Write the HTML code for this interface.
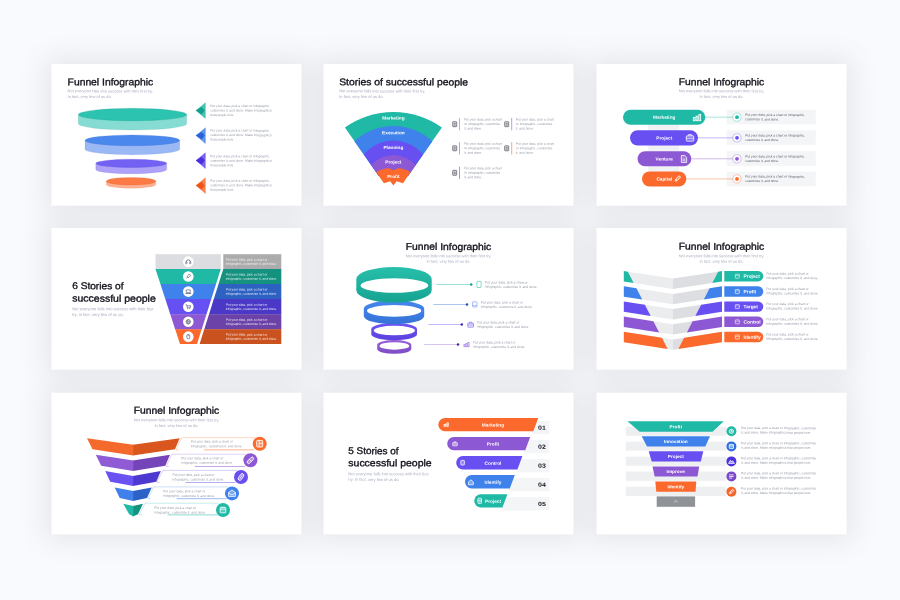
<!DOCTYPE html>
<html lang="en"><head><meta charset="utf-8"><title>Funnel Infographic</title>
<style>
html,body{margin:0;padding:0}
body{width:900px;height:600px;overflow:hidden;background:#f9fafd;position:relative;font-family:"Liberation Sans",sans-serif}
svg{position:absolute;left:0;top:0}
text{font-family:"Liberation Sans",sans-serif;text-rendering:geometricPrecision}
</style></head><body>
<svg width="900" height="600" viewBox="0 0 900 600">
<defs><filter id="sh" filterUnits="userSpaceOnUse" x="0" y="0" width="900" height="600"><feGaussianBlur stdDeviation="14"/></filter></defs>
<g filter="url(#sh)" opacity="0.112"><rect x="45.5" y="58" width="262" height="153.7" fill="#4e4f5a"/><rect x="317.5" y="58" width="262" height="153.7" fill="#4e4f5a"/><rect x="590.5" y="58" width="262" height="153.7" fill="#4e4f5a"/><rect x="45.5" y="222" width="262" height="153.7" fill="#4e4f5a"/><rect x="317.5" y="222" width="262" height="153.7" fill="#4e4f5a"/><rect x="590.5" y="222" width="262" height="153.7" fill="#4e4f5a"/><rect x="45.5" y="386.7" width="262" height="153.7" fill="#4e4f5a"/><rect x="317.5" y="386.7" width="262" height="153.7" fill="#4e4f5a"/><rect x="590.5" y="386.7" width="262" height="153.7" fill="#4e4f5a"/></g>
<rect x="51.5" y="64" width="250" height="141.7" fill="#fff"/><rect x="323.5" y="64" width="250" height="141.7" fill="#fff"/><rect x="596.5" y="64" width="250" height="141.7" fill="#fff"/><rect x="51.5" y="228" width="250" height="141.7" fill="#fff"/><rect x="323.5" y="228" width="250" height="141.7" fill="#fff"/><rect x="596.5" y="228" width="250" height="141.7" fill="#fff"/><rect x="51.5" y="392.7" width="250" height="141.7" fill="#fff"/><rect x="323.5" y="392.7" width="250" height="141.7" fill="#fff"/><rect x="596.5" y="392.7" width="250" height="141.7" fill="#fff"/>
<g id="s1">
<text x="67.6" y="85.2" transform="rotate(0.1 67.6 85.2)" font-size="9.7" fill="#15151f" textLength="85.5" lengthAdjust="spacingAndGlyphs" stroke="#15151f" stroke-width="0.36">Funnel Infographic</text>
<text x="67.6" y="92.33" transform="rotate(0.1 67.6 92.33)" font-size="3.97" fill="#a9adbf" textLength="85.5" lengthAdjust="spacingAndGlyphs">Not everyone falls into success with their first try.</text>
<text x="67.6" y="98.03" transform="rotate(0.1 67.6 98.03)" font-size="3.97" fill="#a9adbf" textLength="44.11" lengthAdjust="spacingAndGlyphs">In fact, very few of us do.</text>
<path d="M78.3 114.6 L78.3 123.7 A54.2 6.3 0 0 0 186.7 123.7 L186.7 114.6 Z" fill="#86dcd2" stroke="#12907f" stroke-width="0.35" stroke-opacity="0.35"/>
<ellipse cx="132.5" cy="114.6" rx="54.2" ry="6.3" fill="#2cc3b0" stroke="#12907f" stroke-width="0.35" stroke-opacity="0.5"/>
<path d="M85 140.4 L85 149.3 A47.35 5.4 0 0 0 179.7 149.3 L179.7 140.4 Z" fill="#9ab9f4" stroke="#2d5fc4" stroke-width="0.35" stroke-opacity="0.35"/>
<ellipse cx="132.35" cy="140.4" rx="47.35" ry="5.4" fill="#4b88ee" stroke="#2d5fc4" stroke-width="0.35" stroke-opacity="0.5"/>
<path d="M95.8 163.35 L95.8 169.55 A35.45 4.15 0 0 0 166.7 169.55 L166.7 163.35 Z" fill="#ada2f7" stroke="#4a36cc" stroke-width="0.35" stroke-opacity="0.35"/>
<ellipse cx="131.25" cy="163.35" rx="35.45" ry="4.15" fill="#7361f3" stroke="#4a36cc" stroke-width="0.35" stroke-opacity="0.5"/>
<path d="M106.3 181.25 L106.3 184.45 A24.75 3.75 0 0 0 155.8 184.45 L155.8 181.25 Z" fill="#fcb192" stroke="#d9541f" stroke-width="0.35" stroke-opacity="0.35"/>
<ellipse cx="131.05" cy="181.25" rx="24.75" ry="3.75" fill="#fb7a45" stroke="#d9541f" stroke-width="0.35" stroke-opacity="0.5"/>
<polygon points="195.8,110.6 205.4,102.5 205.4,118.7" fill="#1fb9a5" opacity="0.82"/>
<polygon points="195.8,110.6 201.7,106.7 204.7,110.6 201.7,114.5" fill="#12a08d"/>
<line x1="205.2" y1="102.8" x2="205.2" y2="118.4" stroke="#12a08d" stroke-width="0.5" opacity="0.7"/>
<polygon points="195.8,135.6 205.4,127.5 205.4,143.7" fill="#3f82ec" opacity="0.82"/>
<polygon points="195.8,135.6 201.7,131.7 204.7,135.6 201.7,139.5" fill="#2a63d8"/>
<line x1="205.2" y1="127.8" x2="205.2" y2="143.4" stroke="#2a63d8" stroke-width="0.5" opacity="0.7"/>
<polygon points="195.8,160.6 205.4,152.5 205.4,168.7" fill="#5e45ee" opacity="0.82"/>
<polygon points="195.8,160.6 201.7,156.7 204.7,160.6 201.7,164.5" fill="#4a30dc"/>
<line x1="205.2" y1="152.8" x2="205.2" y2="168.4" stroke="#4a30dc" stroke-width="0.5" opacity="0.7"/>
<polygon points="195.8,185.6 205.4,177.5 205.4,193.7" fill="#fb692c" opacity="0.82"/>
<polygon points="195.8,185.6 201.7,181.7 204.7,185.6 201.7,189.5" fill="#ee5518"/>
<line x1="205.2" y1="177.8" x2="205.2" y2="193.4" stroke="#ee5518" stroke-width="0.5" opacity="0.7"/>
<text x="210.2" y="106.95" transform="rotate(0.1 210.2 106.95)" font-size="3.29" fill="#9599a8" textLength="59.94" lengthAdjust="spacingAndGlyphs">Put your data, pick a chart or infographic,</text>
<text x="210.2" y="111.45" transform="rotate(0.1 210.2 111.45)" font-size="3.29" fill="#9599a8" textLength="61.4" lengthAdjust="spacingAndGlyphs">customize it, and done. Make infographics</text>
<text x="210.2" y="115.95" transform="rotate(0.1 210.2 115.95)" font-size="3.29" fill="#9599a8" textLength="24.13" lengthAdjust="spacingAndGlyphs">that people love.</text>
<text x="210.2" y="131.55" transform="rotate(0.1 210.2 131.55)" font-size="3.29" fill="#9599a8" textLength="59.94" lengthAdjust="spacingAndGlyphs">Put your data, pick a chart or infographic,</text>
<text x="210.2" y="136.05" transform="rotate(0.1 210.2 136.05)" font-size="3.29" fill="#9599a8" textLength="61.4" lengthAdjust="spacingAndGlyphs">customize it, and done. Make infographics</text>
<text x="210.2" y="140.55" transform="rotate(0.1 210.2 140.55)" font-size="3.29" fill="#9599a8" textLength="24.13" lengthAdjust="spacingAndGlyphs">that people love.</text>
<text x="210.2" y="157.15" transform="rotate(0.1 210.2 157.15)" font-size="3.29" fill="#9599a8" textLength="59.94" lengthAdjust="spacingAndGlyphs">Put your data, pick a chart or infographic,</text>
<text x="210.2" y="161.65" transform="rotate(0.1 210.2 161.65)" font-size="3.29" fill="#9599a8" textLength="61.4" lengthAdjust="spacingAndGlyphs">customize it, and done. Make infographics</text>
<text x="210.2" y="166.15" transform="rotate(0.1 210.2 166.15)" font-size="3.29" fill="#9599a8" textLength="24.13" lengthAdjust="spacingAndGlyphs">that people love.</text>
<text x="210.2" y="181.65" transform="rotate(0.1 210.2 181.65)" font-size="3.29" fill="#9599a8" textLength="59.94" lengthAdjust="spacingAndGlyphs">Put your data, pick a chart or infographic,</text>
<text x="210.2" y="186.15" transform="rotate(0.1 210.2 186.15)" font-size="3.29" fill="#9599a8" textLength="61.4" lengthAdjust="spacingAndGlyphs">customize it, and done. Make infographics</text>
<text x="210.2" y="190.65" transform="rotate(0.1 210.2 190.65)" font-size="3.29" fill="#9599a8" textLength="24.13" lengthAdjust="spacingAndGlyphs">that people love.</text>
</g>
<g id="s2">
<text x="339.2" y="85.2" transform="rotate(0.1 339.2 85.2)" font-size="9.7" fill="#15151f" textLength="128.8" lengthAdjust="spacingAndGlyphs" stroke="#15151f" stroke-width="0.36">Stories of successful people</text>
<text x="339.2" y="92.34" transform="rotate(0.1 339.2 92.34)" font-size="4" fill="#a9adbf" textLength="86.1" lengthAdjust="spacingAndGlyphs">Not everyone falls into success with their first try.</text>
<text x="339.2" y="98.04" transform="rotate(0.1 339.2 98.04)" font-size="4" fill="#a9adbf" textLength="44.42" lengthAdjust="spacingAndGlyphs">In fact, very few of us do.</text>
<path d="M344.9 127.6 A83.63 83.63 0 0 1 441.9 127.6 L407.95 176 L378.85 176 Z" fill="#1fb9a5"/>
<path d="M354.4 141.14 A57.79 57.79 0 0 1 432.4 141.14 L407.95 176 L378.85 176 Z" fill="#3f82ec"/>
<path d="M363.8 154.54 A38.22 38.22 0 0 1 423 154.54 L407.95 176 L378.85 176 Z" fill="#674ff2"/>
<path d="M371.2 165.09 A29.66 29.66 0 0 1 415.6 165.09 L407.95 176 L378.85 176 Z" fill="#8d58d3"/>
<path d="M376.2 172.2 Q381.5 168.6 388.8 168.3 L393.4 170.3 L398 168.3 Q405.3 168.6 410.6 172.2 L402.9 183.2 L396.6 181.2 L393.4 185.4 L390.2 181.2 L383.9 183.2 Z" fill="#fb692c"/>
<text x="393.4" y="119.6" transform="rotate(0.1 393.4 119.6)" font-size="4.5" fill="#fff" text-anchor="middle" font-weight="bold" textLength="22.32" lengthAdjust="spacingAndGlyphs">Marketing</text>
<text x="393.4" y="134.3" transform="rotate(0.1 393.4 134.3)" font-size="4.5" fill="#fff" text-anchor="middle" font-weight="bold" textLength="22.58" lengthAdjust="spacingAndGlyphs">Execution</text>
<text x="393.4" y="149" transform="rotate(0.1 393.4 149)" font-size="4.5" fill="#fff" text-anchor="middle" font-weight="bold" textLength="19.95" lengthAdjust="spacingAndGlyphs">Planning</text>
<text x="393.4" y="163.6" transform="rotate(0.1 393.4 163.6)" font-size="4.5" fill="#fff" text-anchor="middle" font-weight="bold" textLength="16.02" lengthAdjust="spacingAndGlyphs">Project</text>
<text x="393.4" y="178" transform="rotate(0.1 393.4 178)" font-size="4.5" fill="#fff" text-anchor="middle" font-weight="bold" textLength="12.34" lengthAdjust="spacingAndGlyphs">Profit</text>
<rect x="452.7" y="121.7" width="4" height="5" fill="#4a4a5a" rx="0.5" fill-opacity="0.2" stroke="#4a4a5a" stroke-width="0.65"/>
<line x1="453.7" y1="123.6" x2="455.7" y2="123.6" stroke="#4a4a5a" stroke-width="0.6"/>
<line x1="453.7" y1="125.1" x2="455.7" y2="125.1" stroke="#4a4a5a" stroke-width="0.6"/>
<line x1="459.5" y1="118" x2="459.5" y2="130.4" stroke="#1fb9a5" stroke-width="0.6"/>
<text x="464.2" y="120.54" transform="rotate(0.1 464.2 120.54)" font-size="3.24" fill="#9599a8" textLength="37.6" lengthAdjust="spacingAndGlyphs">Put your data, pick a chart</text>
<text x="464.2" y="125.04" transform="rotate(0.1 464.2 125.04)" font-size="3.24" fill="#9599a8" textLength="35.98" lengthAdjust="spacingAndGlyphs">or infographic, customize</text>
<text x="464.2" y="129.54" transform="rotate(0.1 464.2 129.54)" font-size="3.24" fill="#9599a8" textLength="17.82" lengthAdjust="spacingAndGlyphs">it, and done.</text>
<rect x="452.7" y="145.8" width="4" height="5" fill="#4a4a5a" rx="0.5" fill-opacity="0.2" stroke="#4a4a5a" stroke-width="0.65"/>
<line x1="453.7" y1="147.7" x2="455.7" y2="147.7" stroke="#4a4a5a" stroke-width="0.6"/>
<line x1="453.7" y1="149.2" x2="455.7" y2="149.2" stroke="#4a4a5a" stroke-width="0.6"/>
<line x1="459.5" y1="142.1" x2="459.5" y2="154.5" stroke="#3f82ec" stroke-width="0.6"/>
<text x="464.2" y="144.64" transform="rotate(0.1 464.2 144.64)" font-size="3.24" fill="#9599a8" textLength="37.6" lengthAdjust="spacingAndGlyphs">Put your data, pick a chart</text>
<text x="464.2" y="149.14" transform="rotate(0.1 464.2 149.14)" font-size="3.24" fill="#9599a8" textLength="35.98" lengthAdjust="spacingAndGlyphs">or infographic, customize</text>
<text x="464.2" y="153.64" transform="rotate(0.1 464.2 153.64)" font-size="3.24" fill="#9599a8" textLength="17.82" lengthAdjust="spacingAndGlyphs">it, and done.</text>
<rect x="452.7" y="170.3" width="4" height="5" fill="#4a4a5a" rx="0.5" fill-opacity="0.2" stroke="#4a4a5a" stroke-width="0.65"/>
<line x1="453.7" y1="172.2" x2="455.7" y2="172.2" stroke="#4a4a5a" stroke-width="0.6"/>
<line x1="453.7" y1="173.7" x2="455.7" y2="173.7" stroke="#4a4a5a" stroke-width="0.6"/>
<line x1="459.5" y1="166.6" x2="459.5" y2="179" stroke="#674ff2" stroke-width="0.6"/>
<text x="464.2" y="169.14" transform="rotate(0.1 464.2 169.14)" font-size="3.24" fill="#9599a8" textLength="37.6" lengthAdjust="spacingAndGlyphs">Put your data, pick a chart</text>
<text x="464.2" y="173.64" transform="rotate(0.1 464.2 173.64)" font-size="3.24" fill="#9599a8" textLength="35.98" lengthAdjust="spacingAndGlyphs">or infographic, customize</text>
<text x="464.2" y="178.14" transform="rotate(0.1 464.2 178.14)" font-size="3.24" fill="#9599a8" textLength="17.82" lengthAdjust="spacingAndGlyphs">it, and done.</text>
<rect x="504.7" y="121.7" width="4" height="5" fill="#4a4a5a" rx="0.5" fill-opacity="0.2" stroke="#4a4a5a" stroke-width="0.65"/>
<line x1="505.7" y1="123.6" x2="507.7" y2="123.6" stroke="#4a4a5a" stroke-width="0.6"/>
<line x1="505.7" y1="125.1" x2="507.7" y2="125.1" stroke="#4a4a5a" stroke-width="0.6"/>
<line x1="511.7" y1="118" x2="511.7" y2="130.4" stroke="#8d58d3" stroke-width="0.6"/>
<text x="515.8" y="120.55" transform="rotate(0.1 515.8 120.55)" font-size="3.29" fill="#9599a8" textLength="38.2" lengthAdjust="spacingAndGlyphs">Put your data, pick a chart</text>
<text x="515.8" y="125.05" transform="rotate(0.1 515.8 125.05)" font-size="3.29" fill="#9599a8" textLength="36.55" lengthAdjust="spacingAndGlyphs">or infographic, customize</text>
<text x="515.8" y="129.55" transform="rotate(0.1 515.8 129.55)" font-size="3.29" fill="#9599a8" textLength="18.1" lengthAdjust="spacingAndGlyphs">it, and done.</text>
<rect x="504.7" y="145.8" width="4" height="5" fill="#4a4a5a" rx="0.5" fill-opacity="0.2" stroke="#4a4a5a" stroke-width="0.65"/>
<line x1="505.7" y1="147.7" x2="507.7" y2="147.7" stroke="#4a4a5a" stroke-width="0.6"/>
<line x1="505.7" y1="149.2" x2="507.7" y2="149.2" stroke="#4a4a5a" stroke-width="0.6"/>
<line x1="511.7" y1="142.1" x2="511.7" y2="154.5" stroke="#fb692c" stroke-width="0.6"/>
<text x="515.8" y="144.65" transform="rotate(0.1 515.8 144.65)" font-size="3.29" fill="#9599a8" textLength="38.2" lengthAdjust="spacingAndGlyphs">Put your data, pick a chart</text>
<text x="515.8" y="149.15" transform="rotate(0.1 515.8 149.15)" font-size="3.29" fill="#9599a8" textLength="36.55" lengthAdjust="spacingAndGlyphs">or infographic, customize</text>
<text x="515.8" y="153.65" transform="rotate(0.1 515.8 153.65)" font-size="3.29" fill="#9599a8" textLength="18.1" lengthAdjust="spacingAndGlyphs">it, and done.</text>
</g>
<g id="s3">
<text x="721.5" y="85.2" transform="rotate(0.1 721.5 85.2)" font-size="9.7" fill="#15151f" text-anchor="middle" textLength="85.5" lengthAdjust="spacingAndGlyphs" stroke="#15151f" stroke-width="0.36">Funnel Infographic</text>
<text x="721.5" y="92.33" transform="rotate(0.1 721.5 92.33)" font-size="3.97" fill="#a9adbf" text-anchor="middle" textLength="85.5" lengthAdjust="spacingAndGlyphs">Not everyone falls into success with their first try.</text>
<text x="721.5" y="98.03" transform="rotate(0.1 721.5 98.03)" font-size="3.97" fill="#a9adbf" text-anchor="middle" textLength="44.11" lengthAdjust="spacingAndGlyphs">In fact, very few of us do.</text>
<rect x="726.7" y="109.7" width="89.1" height="14.6" fill="#f4f5f7"/>
<rect x="726.7" y="130.3" width="89.1" height="14.7" fill="#f4f5f7"/>
<rect x="726.7" y="151.2" width="89.1" height="14.7" fill="#f4f5f7"/>
<rect x="726.7" y="171.7" width="89.1" height="14.7" fill="#f4f5f7"/>
<rect x="648.3" y="124.2" width="31" height="6.6" fill="#f0f1f4"/>
<rect x="648.3" y="145" width="31" height="6.8" fill="#f0f1f4"/>
<rect x="648.3" y="165.8" width="31" height="6" fill="#f0f1f4"/>
<line x1="703.3" y1="117.2" x2="737" y2="117.2" stroke="#1fb9a5" stroke-width="0.5" opacity="0.8"/>
<rect x="623" y="109.7" width="82.3" height="15" fill="#1fb9a5" rx="7.5"/>
<text x="664.3" y="118.8" transform="rotate(0.1 664.3 118.8)" font-size="4.5" fill="#fff" text-anchor="middle" font-weight="bold" textLength="22.32" lengthAdjust="spacingAndGlyphs">Marketing</text>
<circle cx="737" cy="117.2" r="4.1" fill="#fff" stroke="#1fb9a5" stroke-width="0.6" stroke-opacity="0.6"/>
<circle cx="737" cy="117.2" r="1.9" fill="#1fb9a5"/>
<text x="745.3" y="115.85" transform="rotate(0.1 745.3 115.85)" font-size="3.27" fill="#5b5e6b" textLength="59.7" lengthAdjust="spacingAndGlyphs">Put your data, pick a chart or infographic,</text>
<text x="745.3" y="120.35" transform="rotate(0.1 745.3 120.35)" font-size="3.27" fill="#5b5e6b" textLength="33.67" lengthAdjust="spacingAndGlyphs">customize it, and done.</text>
<line x1="696" y1="137.85" x2="737" y2="137.85" stroke="#674ff2" stroke-width="0.5" opacity="0.8"/>
<rect x="630" y="130.3" width="68" height="15.1" fill="#674ff2" rx="7.55"/>
<text x="664.3" y="139.45" transform="rotate(0.1 664.3 139.45)" font-size="4.5" fill="#fff" text-anchor="middle" font-weight="bold" textLength="16.02" lengthAdjust="spacingAndGlyphs">Project</text>
<circle cx="737" cy="137.85" r="4.1" fill="#fff" stroke="#674ff2" stroke-width="0.6" stroke-opacity="0.6"/>
<circle cx="737" cy="137.85" r="1.9" fill="#674ff2"/>
<text x="745.3" y="136.5" transform="rotate(0.1 745.3 136.5)" font-size="3.27" fill="#5b5e6b" textLength="59.7" lengthAdjust="spacingAndGlyphs">Put your data, pick a chart or infographic,</text>
<text x="745.3" y="141" transform="rotate(0.1 745.3 141)" font-size="3.27" fill="#5b5e6b" textLength="33.67" lengthAdjust="spacingAndGlyphs">customize it, and done.</text>
<line x1="689.3" y1="158.8" x2="737" y2="158.8" stroke="#8d58d3" stroke-width="0.5" opacity="0.8"/>
<rect x="637.5" y="151.3" width="53.8" height="15" fill="#8d58d3" rx="7.5"/>
<text x="664.3" y="160.4" transform="rotate(0.1 664.3 160.4)" font-size="4.5" fill="#fff" text-anchor="middle" font-weight="bold" textLength="17.33" lengthAdjust="spacingAndGlyphs">Venture</text>
<circle cx="737" cy="158.8" r="4.1" fill="#fff" stroke="#8d58d3" stroke-width="0.6" stroke-opacity="0.6"/>
<circle cx="737" cy="158.8" r="1.9" fill="#8d58d3"/>
<text x="745.3" y="157.45" transform="rotate(0.1 745.3 157.45)" font-size="3.27" fill="#5b5e6b" textLength="59.7" lengthAdjust="spacingAndGlyphs">Put your data, pick a chart or infographic,</text>
<text x="745.3" y="161.95" transform="rotate(0.1 745.3 161.95)" font-size="3.27" fill="#5b5e6b" textLength="33.67" lengthAdjust="spacingAndGlyphs">customize it, and done.</text>
<line x1="684.3" y1="178.9" x2="737" y2="178.9" stroke="#fb692c" stroke-width="0.5" opacity="0.8"/>
<rect x="642" y="171.4" width="44.3" height="15" fill="#fb692c" rx="7.5"/>
<text x="664.3" y="180.5" transform="rotate(0.1 664.3 180.5)" font-size="4.5" fill="#fff" text-anchor="middle" font-weight="bold" textLength="15.75" lengthAdjust="spacingAndGlyphs">Capital</text>
<circle cx="737" cy="178.9" r="4.1" fill="#fff" stroke="#fb692c" stroke-width="0.6" stroke-opacity="0.6"/>
<circle cx="737" cy="178.9" r="1.9" fill="#fb692c"/>
<text x="745.3" y="177.55" transform="rotate(0.1 745.3 177.55)" font-size="3.27" fill="#5b5e6b" textLength="59.7" lengthAdjust="spacingAndGlyphs">Put your data, pick a chart or infographic,</text>
<text x="745.3" y="182.05" transform="rotate(0.1 745.3 182.05)" font-size="3.27" fill="#5b5e6b" textLength="33.67" lengthAdjust="spacingAndGlyphs">customize it, and done.</text>
<rect x="693.34" y="117.38" width="1.8" height="3.36" fill="#fff" fill-opacity="0.25" stroke="#fff" stroke-width="0.84"/>
<rect x="696.1" y="116.18" width="1.8" height="4.56" fill="#fff" fill-opacity="0.25" stroke="#fff" stroke-width="0.84"/>
<rect x="698.86" y="114.5" width="1.8" height="6.24" fill="#fff" fill-opacity="0.25" stroke="#fff" stroke-width="0.84"/>
<rect x="686.32" y="135.83" width="7.36" height="5.29" fill="#fff" rx="0.57" fill-opacity="0.2" stroke="#fff" stroke-width="0.8"/>
<path d="M688.62 135.83 v-1.26 h2.76 v1.26" fill="none" stroke="#fff" stroke-width="0.8"/>
<line x1="686.32" y1="138.25" x2="693.68" y2="138.25" stroke="#fff" stroke-width="0.64"/>
<path d="M681.36 155.55 h3.45 l1.84 1.84 v5.06 h-5.29 Z" fill="#fff" stroke="#fff" stroke-width="0.8" fill-opacity="0.2"/>
<line x1="682.74" y1="159.23" x2="685.26" y2="159.23" stroke="#fff" stroke-width="0.64"/>
<line x1="682.74" y1="160.72" x2="685.26" y2="160.72" stroke="#fff" stroke-width="0.64"/>
<g transform="translate(677.6 178.7) rotate(45) scale(0.95)">
<rect x="-1.1" y="-3.4" width="2.2" height="5.2" fill="#fff" rx="0.4" fill-opacity="0.3" stroke="#fff" stroke-width="0.8"/>
<path d="M-1.1 1.8 L0 3.6 L1.1 1.8" fill="none" stroke="#fff" stroke-width="0.8"/>
</g>
</g>
<g id="s4">
<text x="72.2" y="289.1" transform="rotate(0.1 72.2 289.1)" font-size="9.7" fill="#15151f" textLength="51.3" lengthAdjust="spacingAndGlyphs" stroke="#15151f" stroke-width="0.36">6 Stories of</text>
<text x="72.2" y="301.6" transform="rotate(0.1 72.2 301.6)" font-size="9.7" fill="#15151f" textLength="83.6" lengthAdjust="spacingAndGlyphs" stroke="#15151f" stroke-width="0.36">successful people</text>
<text x="72.2" y="310.26" transform="rotate(0.1 72.2 310.26)" font-size="4.06" fill="#a9adbf" textLength="81.1" lengthAdjust="spacingAndGlyphs">Not everyone falls into success with their first</text>
<text x="72.2" y="316.06" transform="rotate(0.1 72.2 316.06)" font-size="4.06" fill="#a9adbf" textLength="51.66" lengthAdjust="spacingAndGlyphs">try. In fact, very few of us do.</text>
<rect x="155.5" y="254.2" width="65.3" height="14.9" fill="#dcdde0"/>
<rect x="223.3" y="254.2" width="58" height="14.9" fill="#acacac"/>
<circle cx="188.3" cy="261.65" r="5.3" fill="#fff"/>
<text x="225.8" y="260.6" transform="rotate(0.1 225.8 260.6)" font-size="3.25" fill="rgba(255,255,255,0.86)" textLength="41.61" lengthAdjust="spacingAndGlyphs">Put your data, pick a chart or</text>
<text x="225.8" y="264.8" transform="rotate(0.1 225.8 264.8)" font-size="3.25" fill="rgba(255,255,255,0.86)" textLength="51.2" lengthAdjust="spacingAndGlyphs">infographic, customize it, and done.</text>
<path d="M186.2 261.95 a2.1 2.1 0 0 1 4.2 0" fill="none" stroke="#2f3450" stroke-width="0.6"/>
<rect x="185.8" y="261.85" width="1.1" height="2" fill="none" rx="0.3" stroke="#2f3450" stroke-width="0.5"/>
<rect x="189.7" y="261.85" width="1.1" height="2" fill="none" rx="0.3" stroke="#2f3450" stroke-width="0.5"/>
<polygon points="155.5,268.9 220.8,268.9 216.04,284.1 160.4,284.1" fill="#1fb9a5"/>
<polygon points="223.3,268.9 281.3,268.9 281.3,284.1 218.56,284.1" fill="#14917f"/>
<circle cx="188.3" cy="276.5" r="5.3" fill="#fff"/>
<text x="225.8" y="275.45" transform="rotate(0.1 225.8 275.45)" font-size="3.25" fill="rgba(255,255,255,0.86)" textLength="41.61" lengthAdjust="spacingAndGlyphs">Put your data, pick a chart or</text>
<text x="225.8" y="279.65" transform="rotate(0.1 225.8 279.65)" font-size="3.25" fill="rgba(255,255,255,0.86)" textLength="51.2" lengthAdjust="spacingAndGlyphs">infographic, customize it, and done.</text>
<g transform="rotate(45 188.3 276.5)">
<rect x="187.3" y="273.9" width="2" height="3.4" fill="none" rx="0.8" stroke="#2f3450" stroke-width="0.55"/>
<line x1="188.3" y1="277.3" x2="188.3" y2="279.3" stroke="#2f3450" stroke-width="0.55"/>
</g>
<polygon points="160.4,283.9 216.04,283.9 211.22,299.3 165.37,299.3" fill="#3f82ec"/>
<polygon points="218.56,283.9 281.3,283.9 281.3,299.3 213.76,299.3" fill="#2d62c2"/>
<circle cx="188.3" cy="291.6" r="5.3" fill="#fff"/>
<text x="225.8" y="290.55" transform="rotate(0.1 225.8 290.55)" font-size="3.25" fill="rgba(255,255,255,0.86)" textLength="41.61" lengthAdjust="spacingAndGlyphs">Put your data, pick a chart or</text>
<text x="225.8" y="294.75" transform="rotate(0.1 225.8 294.75)" font-size="3.25" fill="rgba(255,255,255,0.86)" textLength="51.2" lengthAdjust="spacingAndGlyphs">infographic, customize it, and done.</text>
<rect x="186.3" y="289.9" width="4" height="2.8" fill="none" rx="0.3" stroke="#2f3450" stroke-width="0.55"/>
<line x1="185.5" y1="293.5" x2="191.1" y2="293.5" stroke="#2f3450" stroke-width="0.6"/>
<polygon points="165.37,299.1 211.22,299.1 206.42,314.4 170.3,314.4" fill="#6650f2"/>
<polygon points="213.76,299.1 281.3,299.1 281.3,314.4 208.99,314.4" fill="#4b38c6"/>
<circle cx="188.3" cy="306.75" r="5.3" fill="#fff"/>
<text x="225.8" y="305.7" transform="rotate(0.1 225.8 305.7)" font-size="3.25" fill="rgba(255,255,255,0.86)" textLength="41.61" lengthAdjust="spacingAndGlyphs">Put your data, pick a chart or</text>
<text x="225.8" y="309.9" transform="rotate(0.1 225.8 309.9)" font-size="3.25" fill="rgba(255,255,255,0.86)" textLength="51.2" lengthAdjust="spacingAndGlyphs">infographic, customize it, and done.</text>
<path d="M185.7 304.75 h1 l0.7 3 h2.8 l0.5 -2 h-3.6" fill="none" stroke="#2f3450" stroke-width="0.55"/>
<circle cx="187.7" cy="308.75" r="0.4" fill="#2f3450"/>
<circle cx="189.8" cy="308.75" r="0.4" fill="#2f3450"/>
<polygon points="170.3,314.2 206.42,314.2 201.66,329.4 175.2,329.4" fill="#8d58d3"/>
<polygon points="208.99,314.2 281.3,314.2 281.3,329.4 204.25,329.4" fill="#6c42a9"/>
<circle cx="188.3" cy="321.8" r="5.3" fill="#fff"/>
<text x="225.8" y="320.75" transform="rotate(0.1 225.8 320.75)" font-size="3.25" fill="rgba(255,255,255,0.86)" textLength="41.61" lengthAdjust="spacingAndGlyphs">Put your data, pick a chart or</text>
<text x="225.8" y="324.95" transform="rotate(0.1 225.8 324.95)" font-size="3.25" fill="rgba(255,255,255,0.86)" textLength="51.2" lengthAdjust="spacingAndGlyphs">infographic, customize it, and done.</text>
<circle cx="188.3" cy="321.8" r="2.2" fill="none" stroke="#2f3450" stroke-width="0.55"/>
<line x1="186.1" y1="321.8" x2="190.5" y2="321.8" stroke="#2f3450" stroke-width="0.45"/>
<ellipse cx="188.3" cy="321.8" rx="0.9" ry="2.2" fill="none" stroke="#2f3450" stroke-width="0.45"/>
<polygon points="175.2,329.2 201.66,329.2 197,344.1 180,344.1" fill="#fb692c"/>
<polygon points="204.25,329.2 281.3,329.2 281.3,344.1 199.6,344.1" fill="#c9521f"/>
<circle cx="188.3" cy="336.65" r="5.3" fill="#fff"/>
<text x="225.8" y="335.6" transform="rotate(0.1 225.8 335.6)" font-size="3.25" fill="rgba(255,255,255,0.86)" textLength="41.61" lengthAdjust="spacingAndGlyphs">Put your data, pick a chart or</text>
<text x="225.8" y="339.8" transform="rotate(0.1 225.8 339.8)" font-size="3.25" fill="rgba(255,255,255,0.86)" textLength="51.2" lengthAdjust="spacingAndGlyphs">infographic, customize it, and done.</text>
<rect x="186.8" y="334.45" width="3" height="4.4" fill="none" rx="1.5" stroke="#2f3450" stroke-width="0.55"/>
<line x1="188.3" y1="334.45" x2="188.3" y2="336.25" stroke="#2f3450" stroke-width="0.45"/>
</g>
<g id="s5">
<text x="448.5" y="249.9" transform="rotate(0.1 448.5 249.9)" font-size="9.7" fill="#15151f" text-anchor="middle" textLength="85.5" lengthAdjust="spacingAndGlyphs" stroke="#15151f" stroke-width="0.36">Funnel Infographic</text>
<text x="448.5" y="257.23" transform="rotate(0.1 448.5 257.23)" font-size="3.97" fill="#a9adbf" text-anchor="middle" textLength="85.5" lengthAdjust="spacingAndGlyphs">Not everyone falls into success with their first try.</text>
<text x="448.5" y="262.83" transform="rotate(0.1 448.5 262.83)" font-size="3.97" fill="#a9adbf" text-anchor="middle" textLength="44.11" lengthAdjust="spacingAndGlyphs">In fact, very few of us do.</text>
<linearGradient id="rg4" x1="0" y1="0" x2="0" y2="1"><stop offset="0" stop-color="#9560d8"/><stop offset="1" stop-color="#7f4cc4"/></linearGradient>
<path d="M377.2 344.76 A17.05 4.76 0 0 1 411.3 344.76 L411.3 349.04 A17.05 4.76 0 0 1 377.2 349.04 Z M379.5 345.95 A14.85 3.75 0 1 0 409.2 345.95 A14.85 3.75 0 1 0 379.5 345.95 Z" fill="url(#rg4)" fill-rule="evenodd"/>
<linearGradient id="rg3" x1="0" y1="0" x2="0" y2="1"><stop offset="0" stop-color="#6e55f5"/><stop offset="1" stop-color="#5b42dd"/></linearGradient>
<path d="M371.3 328.93 A22.85 5.93 0 0 1 417 328.93 L417 334.27 A22.85 5.93 0 0 1 371.3 334.27 Z M373.7 330.55 A20.65 4.75 0 1 0 415 330.55 A20.65 4.75 0 1 0 373.7 330.55 Z" fill="url(#rg3)" fill-rule="evenodd"/>
<linearGradient id="rg2" x1="0" y1="0" x2="0" y2="1"><stop offset="0" stop-color="#4688f0"/><stop offset="1" stop-color="#3672d6"/></linearGradient>
<path d="M363.8 308.68 A30.2 8.18 0 0 1 424.2 308.68 L424.2 316.02 A30.2 8.18 0 0 1 363.8 316.02 Z M367 310.85 A27.15 5.85 0 1 0 421.3 310.85 A27.15 5.85 0 1 0 367 310.85 Z" fill="url(#rg2)" fill-rule="evenodd"/>
<linearGradient id="rg1" x1="0" y1="0" x2="0" y2="1"><stop offset="0" stop-color="#27bfab"/><stop offset="1" stop-color="#17a391"/></linearGradient>
<path d="M356.3 279.28 A37.7 12.28 0 0 1 431.7 279.28 L431.7 290.32 A37.7 12.28 0 0 1 356.3 290.32 Z M360.5 285.5 A33.9 7.2 0 1 0 428.3 285.5 A33.9 7.2 0 1 0 360.5 285.5 Z" fill="url(#rg1)" fill-rule="evenodd"/>
<line x1="436.7" y1="284.5" x2="471.2" y2="284.5" stroke="#1fb9a5" stroke-width="0.45"/>
<circle cx="471.2" cy="284.5" r="1.25" fill="#14a08d"/>
<text x="485" y="283.57" transform="rotate(0.1 485 283.57)" font-size="3.34" fill="#9599a8" textLength="42.66" lengthAdjust="spacingAndGlyphs">Put your data, pick a chart or</text>
<text x="485" y="287.87" transform="rotate(0.1 485 287.87)" font-size="3.34" fill="#9599a8" textLength="52.5" lengthAdjust="spacingAndGlyphs">infographic, customize it, and done.</text>
<line x1="433.3" y1="304.5" x2="467" y2="304.5" stroke="#4a7de0" stroke-width="0.45"/>
<circle cx="467" cy="304.5" r="1.25" fill="#2a4fb0"/>
<text x="480.8" y="303.55" transform="rotate(0.1 480.8 303.55)" font-size="3.29" fill="#9599a8" textLength="42.01" lengthAdjust="spacingAndGlyphs">Put your data, pick a chart or</text>
<text x="480.8" y="307.85" transform="rotate(0.1 480.8 307.85)" font-size="3.29" fill="#9599a8" textLength="51.7" lengthAdjust="spacingAndGlyphs">infographic, customize it, and done.</text>
<line x1="428.3" y1="324.5" x2="461.8" y2="324.5" stroke="#7a63f0" stroke-width="0.45"/>
<circle cx="461.8" cy="324.5" r="1.25" fill="#3a2ab8"/>
<text x="477" y="323.56" transform="rotate(0.1 477 323.56)" font-size="3.32" fill="#9599a8" textLength="42.42" lengthAdjust="spacingAndGlyphs">Put your data, pick a chart or</text>
<text x="477" y="327.86" transform="rotate(0.1 477 327.86)" font-size="3.32" fill="#9599a8" textLength="52.2" lengthAdjust="spacingAndGlyphs">infographic, customize it, and done.</text>
<line x1="424.2" y1="344.5" x2="458" y2="344.5" stroke="#a07be0" stroke-width="0.45"/>
<circle cx="458" cy="344.5" r="1.25" fill="#4b2a9a"/>
<text x="473" y="343.56" transform="rotate(0.1 473 343.56)" font-size="3.32" fill="#9599a8" textLength="42.5" lengthAdjust="spacingAndGlyphs">Put your data, pick a chart or</text>
<text x="473" y="347.86" transform="rotate(0.1 473 347.86)" font-size="3.32" fill="#9599a8" textLength="52.3" lengthAdjust="spacingAndGlyphs">infographic, customize it, and done.</text>
<rect x="476.9" y="281.4" width="4.2" height="6.1" fill="none" rx="0.6" stroke="#25b8a4" stroke-width="0.55"/>
<rect x="472.6" y="301.8" width="4.4" height="5.2" fill="none" rx="0.5" stroke="#5b86e6" stroke-width="0.55"/>
<line x1="472.6" y1="305.6" x2="477" y2="305.6" stroke="#5b86e6" stroke-width="0.5"/>
<rect x="467.72" y="323.08" width="5.76" height="4.14" fill="#8a74f0" rx="0.45" fill-opacity="0.2" stroke="#8a74f0" stroke-width="0.68"/>
<path d="M469.52 323.08 v-0.99 h2.16 v0.99" fill="none" stroke="#8a74f0" stroke-width="0.68"/>
<line x1="467.72" y1="324.97" x2="473.48" y2="324.97" stroke="#8a74f0" stroke-width="0.54"/>
<rect x="463.91" y="344.42" width="1.27" height="2.38" fill="#a586e6" fill-opacity="0.25" stroke="#a586e6" stroke-width="0.64"/>
<rect x="465.86" y="343.56" width="1.27" height="3.23" fill="#a586e6" fill-opacity="0.25" stroke="#a586e6" stroke-width="0.64"/>
<rect x="467.82" y="342.38" width="1.27" height="4.42" fill="#a586e6" fill-opacity="0.25" stroke="#a586e6" stroke-width="0.64"/>
</g>
<g id="s6">
<text x="721.5" y="249.7" transform="rotate(0.1 721.5 249.7)" font-size="9.7" fill="#15151f" text-anchor="middle" textLength="85.5" lengthAdjust="spacingAndGlyphs" stroke="#15151f" stroke-width="0.36">Funnel Infographic</text>
<text x="721.5" y="257.23" transform="rotate(0.1 721.5 257.23)" font-size="3.97" fill="#a9adbf" text-anchor="middle" textLength="85.5" lengthAdjust="spacingAndGlyphs">Not everyone falls into success with their first try.</text>
<text x="721.5" y="262.83" transform="rotate(0.1 721.5 262.83)" font-size="3.97" fill="#a9adbf" text-anchor="middle" textLength="44.11" lengthAdjust="spacingAndGlyphs">In fact, very few of us do.</text>
<polygon points="627.87,271.63 673,278.6 673,289 633.69,282.93" fill="#ebecee"/>
<polygon points="718.13,271.63 673,278.6 673,289 712.31,282.93" fill="#dcdee1"/>
<polygon points="623.8,271 627.87,271.63 633.69,282.93 623.8,281.4" fill="#1fb9a5"/>
<polygon points="722,271 718.13,271.63 712.31,282.93 722,281.4" fill="#1fb9a5"/>
<path d="M724.3 271 H758.1 A5.2 5.2 0 0 1 758.1 281.4 H724.3 Z" fill="#1fb9a5"/>
<text x="743.6" y="277.85" transform="rotate(0.1 743.6 277.85)" font-size="4.6" fill="#fff" font-weight="bold" textLength="16.22" lengthAdjust="spacingAndGlyphs">Project</text>
<rect x="735.3" y="274.2" width="4" height="4" fill="none" rx="0.5" stroke="#fff" stroke-width="0.6"/>
<line x1="735.3" y1="275.6" x2="739.3" y2="275.6" stroke="#fff" stroke-width="0.5"/>
<text x="766.3" y="274.66" transform="rotate(0.1 766.3 274.66)" font-size="3.32" fill="#9599a8" textLength="42.42" lengthAdjust="spacingAndGlyphs">Put your data, pick a chart or</text>
<text x="766.3" y="279.06" transform="rotate(0.1 766.3 279.06)" font-size="3.32" fill="#9599a8" textLength="52.2" lengthAdjust="spacingAndGlyphs">infographic, customize it, and done.</text>
<polygon points="636.43,288.25 673,293.9 673,304.3 642.25,299.55" fill="#ebecee"/>
<polygon points="709.57,288.25 673,293.9 673,304.3 703.75,299.55" fill="#dcdee1"/>
<polygon points="623.8,286.3 636.43,288.25 642.25,299.55 623.8,296.7" fill="#3f82ec"/>
<polygon points="722,286.3 709.57,288.25 703.75,299.55 722,296.7" fill="#3f82ec"/>
<path d="M724.3 286.3 H758.1 A5.2 5.2 0 0 1 758.1 296.7 H724.3 Z" fill="#3f82ec"/>
<text x="743.6" y="293.15" transform="rotate(0.1 743.6 293.15)" font-size="4.6" fill="#fff" font-weight="bold" textLength="12.49" lengthAdjust="spacingAndGlyphs">Profit</text>
<rect x="735.3" y="289.5" width="4" height="4" fill="none" rx="0.5" stroke="#fff" stroke-width="0.6"/>
<line x1="735.3" y1="290.9" x2="739.3" y2="290.9" stroke="#fff" stroke-width="0.5"/>
<text x="766.3" y="289.96" transform="rotate(0.1 766.3 289.96)" font-size="3.32" fill="#9599a8" textLength="42.42" lengthAdjust="spacingAndGlyphs">Put your data, pick a chart or</text>
<text x="766.3" y="294.36" transform="rotate(0.1 766.3 294.36)" font-size="3.32" fill="#9599a8" textLength="52.2" lengthAdjust="spacingAndGlyphs">infographic, customize it, and done.</text>
<polygon points="644.88,304.66 673,309 673,319.4 650.7,315.95" fill="#ebecee"/>
<polygon points="701.12,304.66 673,309 673,319.4 695.3,315.95" fill="#dcdee1"/>
<polygon points="623.8,301.4 644.88,304.66 650.7,315.95 623.8,311.8" fill="#674ff2"/>
<polygon points="722,301.4 701.12,304.66 695.3,315.95 722,311.8" fill="#674ff2"/>
<path d="M724.3 301.4 H758.1 A5.2 5.2 0 0 1 758.1 311.8 H724.3 Z" fill="#674ff2"/>
<text x="743.6" y="308.25" transform="rotate(0.1 743.6 308.25)" font-size="4.6" fill="#fff" font-weight="bold" textLength="14.27" lengthAdjust="spacingAndGlyphs">Target</text>
<rect x="735.3" y="304.6" width="4" height="4" fill="none" rx="0.5" stroke="#fff" stroke-width="0.6"/>
<line x1="735.3" y1="306" x2="739.3" y2="306" stroke="#fff" stroke-width="0.5"/>
<text x="766.3" y="305.06" transform="rotate(0.1 766.3 305.06)" font-size="3.32" fill="#9599a8" textLength="42.42" lengthAdjust="spacingAndGlyphs">Put your data, pick a chart or</text>
<text x="766.3" y="309.46" transform="rotate(0.1 766.3 309.46)" font-size="3.32" fill="#9599a8" textLength="52.2" lengthAdjust="spacingAndGlyphs">infographic, customize it, and done.</text>
<polygon points="653.38,321.17 673,324.2 673,334.6 659.2,332.47" fill="#ebecee"/>
<polygon points="692.62,321.17 673,324.2 673,334.6 686.8,332.47" fill="#dcdee1"/>
<polygon points="623.8,316.6 653.38,321.17 659.2,332.47 623.8,327" fill="#8d58d3"/>
<polygon points="722,316.6 692.62,321.17 686.8,332.47 722,327" fill="#8d58d3"/>
<path d="M724.3 316.6 H758.1 A5.2 5.2 0 0 1 758.1 327 H724.3 Z" fill="#8d58d3"/>
<text x="743.6" y="323.45" transform="rotate(0.1 743.6 323.45)" font-size="4.6" fill="#fff" font-weight="bold" textLength="17.01" lengthAdjust="spacingAndGlyphs">Control</text>
<rect x="735.3" y="319.8" width="4" height="4" fill="none" rx="0.5" stroke="#fff" stroke-width="0.6"/>
<line x1="735.3" y1="321.2" x2="739.3" y2="321.2" stroke="#fff" stroke-width="0.5"/>
<text x="766.3" y="320.26" transform="rotate(0.1 766.3 320.26)" font-size="3.32" fill="#9599a8" textLength="42.42" lengthAdjust="spacingAndGlyphs">Put your data, pick a chart or</text>
<text x="766.3" y="324.66" transform="rotate(0.1 766.3 324.66)" font-size="3.32" fill="#9599a8" textLength="52.2" lengthAdjust="spacingAndGlyphs">infographic, customize it, and done.</text>
<polygon points="661.89,337.68 673,339.4 673,349.8 667.71,348.98" fill="#ebecee"/>
<polygon points="684.11,337.68 673,339.4 673,349.8 678.29,348.98" fill="#dcdee1"/>
<polygon points="623.8,331.8 661.89,337.68 667.71,348.98 623.8,342.2" fill="#fb692c"/>
<polygon points="722,331.8 684.11,337.68 678.29,348.98 722,342.2" fill="#fb692c"/>
<path d="M724.3 331.8 H758.1 A5.2 5.2 0 0 1 758.1 342.2 H724.3 Z" fill="#fb692c"/>
<text x="743.6" y="338.65" transform="rotate(0.1 743.6 338.65)" font-size="4.6" fill="#fff" font-weight="bold" textLength="17.01" lengthAdjust="spacingAndGlyphs">Identify</text>
<rect x="735.3" y="335" width="4" height="4" fill="none" rx="0.5" stroke="#fff" stroke-width="0.6"/>
<line x1="735.3" y1="336.4" x2="739.3" y2="336.4" stroke="#fff" stroke-width="0.5"/>
<text x="766.3" y="335.46" transform="rotate(0.1 766.3 335.46)" font-size="3.32" fill="#9599a8" textLength="42.42" lengthAdjust="spacingAndGlyphs">Put your data, pick a chart or</text>
<text x="766.3" y="339.86" transform="rotate(0.1 766.3 339.86)" font-size="3.32" fill="#9599a8" textLength="52.2" lengthAdjust="spacingAndGlyphs">infographic, customize it, and done.</text>
</g>
<g id="s7">
<text x="176.5" y="413.7" transform="rotate(0.1 176.5 413.7)" font-size="9.7" fill="#15151f" text-anchor="middle" textLength="85.5" lengthAdjust="spacingAndGlyphs" stroke="#15151f" stroke-width="0.36">Funnel Infographic</text>
<text x="176.5" y="421.33" transform="rotate(0.1 176.5 421.33)" font-size="3.97" fill="#a9adbf" text-anchor="middle" textLength="85.5" lengthAdjust="spacingAndGlyphs">Not everyone falls into success with their first try.</text>
<text x="176.5" y="426.93" transform="rotate(0.1 176.5 426.93)" font-size="3.97" fill="#a9adbf" text-anchor="middle" textLength="44.11" lengthAdjust="spacingAndGlyphs">In fact, very few of us do.</text>
<polygon points="179.7,438.3 132.8,444.7 132.8,455.6 175,449.2" fill="#d9571f"/>
<polygon points="87,438.3 133.3,444.7 133.3,455.6 92.5,449.2" fill="#f4692c"/>
<path d="M255.7 437.7 H181.7 L175.8 449.9 h3" fill="none" stroke="#fb692c" stroke-width="0.4" opacity="0.65"/>
<line x1="204.2" y1="449.9" x2="254.2" y2="449.9" stroke="#fb692c" stroke-width="0.75" opacity="0.7"/>
<circle cx="259.7" cy="443.7" r="7" fill="#fb692c"/>
<text x="190.8" y="442.55" transform="rotate(0.1 190.8 442.55)" font-size="3.29" fill="#9599a8" textLength="42.01" lengthAdjust="spacingAndGlyphs">Put your data, pick a chart or</text>
<text x="190.8" y="447.15" transform="rotate(0.1 190.8 447.15)" font-size="3.29" fill="#9599a8" textLength="51.7" lengthAdjust="spacingAndGlyphs">infographic, customize it, and done.</text>
<polygon points="170,454.8 132.8,460.4 132.8,470.9 165.3,465.8" fill="#7444b8"/>
<polygon points="95.8,454.8 133.3,460.4 133.3,470.9 101.2,465.8" fill="#8f5cd6"/>
<path d="M246.4 454.2 H172 L166.1 466.5 h3" fill="none" stroke="#8d58d3" stroke-width="0.4" opacity="0.65"/>
<line x1="194.9" y1="466.5" x2="244.9" y2="466.5" stroke="#8d58d3" stroke-width="0.75" opacity="0.7"/>
<circle cx="250.4" cy="460.3" r="7" fill="#8d58d3"/>
<text x="181.3" y="459.15" transform="rotate(0.1 181.3 459.15)" font-size="3.29" fill="#9599a8" textLength="42.01" lengthAdjust="spacingAndGlyphs">Put your data, pick a chart or</text>
<text x="181.3" y="463.75" transform="rotate(0.1 181.3 463.75)" font-size="3.29" fill="#9599a8" textLength="51.7" lengthAdjust="spacingAndGlyphs">infographic, customize it, and done.</text>
<polygon points="160.8,471 132.8,476 132.8,485.9 156.3,481.7" fill="#4d38d0"/>
<polygon points="105.2,471 133.3,476 133.3,485.9 110.2,481.7" fill="#6a52f3"/>
<path d="M237 470.4 H162.8 L156.9 482.4 h3" fill="none" stroke="#674ff2" stroke-width="0.4" opacity="0.65"/>
<line x1="185.5" y1="482.4" x2="235.5" y2="482.4" stroke="#674ff2" stroke-width="0.75" opacity="0.7"/>
<circle cx="241" cy="477" r="7" fill="#674ff2"/>
<text x="172.5" y="475.85" transform="rotate(0.1 172.5 475.85)" font-size="3.29" fill="#9599a8" textLength="42.01" lengthAdjust="spacingAndGlyphs">Put your data, pick a chart or</text>
<text x="172.5" y="480.45" transform="rotate(0.1 172.5 480.45)" font-size="3.29" fill="#9599a8" textLength="51.7" lengthAdjust="spacingAndGlyphs">infographic, customize it, and done.</text>
<polygon points="151.7,487.5 132.8,490.9 132.8,500.9 147,498" fill="#2c62c6"/>
<polygon points="114.7,487.5 133.3,490.9 133.3,500.9 119.7,498" fill="#3f80ea"/>
<path d="M228 486.9 H153.7 L147.8 498.7 h3" fill="none" stroke="#3f82ec" stroke-width="0.4" opacity="0.65"/>
<line x1="176.5" y1="498.7" x2="226.5" y2="498.7" stroke="#3f82ec" stroke-width="0.75" opacity="0.7"/>
<circle cx="232" cy="493.4" r="7" fill="#3f82ec"/>
<text x="163.3" y="492.25" transform="rotate(0.1 163.3 492.25)" font-size="3.29" fill="#9599a8" textLength="42.01" lengthAdjust="spacingAndGlyphs">Put your data, pick a chart or</text>
<text x="163.3" y="496.85" transform="rotate(0.1 163.3 496.85)" font-size="3.29" fill="#9599a8" textLength="51.7" lengthAdjust="spacingAndGlyphs">infographic, customize it, and done.</text>
<polygon points="143,503.8 132.8,505.9 132.8,516.4 138,514.2" fill="#14937f"/>
<polygon points="123.3,503.8 133.3,505.9 133.3,516.4 129.2,514.2" fill="#1fb9a5"/>
<path d="M219 503.2 H145 L139.1 514.9 h3" fill="none" stroke="#1fb9a5" stroke-width="0.4" opacity="0.65"/>
<line x1="167.5" y1="514.9" x2="217.5" y2="514.9" stroke="#1fb9a5" stroke-width="0.75" opacity="0.7"/>
<circle cx="223" cy="510" r="7" fill="#1fb9a5"/>
<text x="154.2" y="508.85" transform="rotate(0.1 154.2 508.85)" font-size="3.29" fill="#9599a8" textLength="42.01" lengthAdjust="spacingAndGlyphs">Put your data, pick a chart or</text>
<text x="154.2" y="513.45" transform="rotate(0.1 154.2 513.45)" font-size="3.29" fill="#9599a8" textLength="51.7" lengthAdjust="spacingAndGlyphs">infographic, customize it, and done.</text>
<rect x="256.7" y="440.4" width="6" height="6.6" fill="#fff" rx="0.7" fill-opacity="0.25" stroke="#fff" stroke-width="0.85"/>
<line x1="259.2" y1="440.4" x2="259.2" y2="447" stroke="#fff" stroke-width="0.8"/>
<line x1="259.2" y1="443.4" x2="262.7" y2="443.4" stroke="#fff" stroke-width="0.8"/>
<g transform="rotate(45 250.4 460.3)">
<rect x="248.9" y="456.3" width="3" height="8" fill="#fff" rx="1.5" fill-opacity="0.35" stroke="#fff" stroke-width="0.85"/>
<line x1="248.9" y1="460.3" x2="251.9" y2="460.3" stroke="#fff" stroke-width="0.7"/>
</g>
<g transform="rotate(35 241 477)">
<rect x="239.3" y="473.3" width="3.4" height="7.4" fill="#fff" rx="1.7" fill-opacity="0.3" stroke="#fff" stroke-width="0.85"/>
<line x1="241" y1="475" x2="241" y2="479" stroke="#fff" stroke-width="0.7"/>
</g>
<path d="M228.6 492.4 l3.4 -2.4 l3.4 2.4 v4 h-6.8 Z" fill="#fff" stroke="#fff" stroke-width="0.8" fill-opacity="0.3"/>
<path d="M228.6 492.8 l3.4 2.2 l3.4 -2.2" fill="none" stroke="#fff" stroke-width="0.8"/>
<rect x="220.2" y="507.4" width="5.6" height="5.4" fill="#fff" rx="0.5" fill-opacity="0.25" stroke="#fff" stroke-width="0.8"/>
<line x1="220.2" y1="509.2" x2="225.8" y2="509.2" stroke="#fff" stroke-width="0.8"/>
<line x1="222" y1="506.6" x2="222" y2="508" stroke="#fff" stroke-width="0.7"/>
<line x1="224" y1="506.6" x2="224" y2="508" stroke="#fff" stroke-width="0.7"/>
</g>
<g id="s8">
<text x="348.3" y="454.1" transform="rotate(0.1 348.3 454.1)" font-size="9.7" fill="#15151f" textLength="50.3" lengthAdjust="spacingAndGlyphs" stroke="#15151f" stroke-width="0.36">5 Stories of</text>
<text x="348.3" y="466.2" transform="rotate(0.1 348.3 466.2)" font-size="9.7" fill="#15151f" textLength="83.4" lengthAdjust="spacingAndGlyphs" stroke="#15151f" stroke-width="0.36">successful people</text>
<text x="348.3" y="475.25" transform="rotate(0.1 348.3 475.25)" font-size="4.03" fill="#a9adbf" textLength="80.4" lengthAdjust="spacingAndGlyphs">Not everyone falls into success with their first</text>
<text x="348.3" y="480.85" transform="rotate(0.1 348.3 480.85)" font-size="4.03" fill="#a9adbf" textLength="51.21" lengthAdjust="spacingAndGlyphs">try. In fact, very few of us do.</text>
<rect x="532.3" y="420.9" width="17" height="13.3" fill="#f4f5f7"/>
<path d="M444.95 418 H538.3 L533.3 431.3 H444.95 A6.65 6.65 0 0 1 444.95 418 Z" fill="#fb692c"/>
<text x="493" y="426.55" transform="rotate(0.1 493 426.55)" font-size="4.5" fill="#fff" text-anchor="middle" font-weight="bold" textLength="22.32" lengthAdjust="spacingAndGlyphs">Marketing</text>
<text x="541.9" y="429.75" transform="rotate(0.1 541.9 429.75)" font-size="6" fill="#15151f" text-anchor="middle" font-weight="bold" textLength="7.8" lengthAdjust="spacingAndGlyphs">01</text>
<rect x="524.2" y="439.9" width="25.1" height="13.3" fill="#f4f5f7"/>
<path d="M453.85 437 H530.2 L525.2 450.3 H453.85 A6.65 6.65 0 0 1 453.85 437 Z" fill="#8d58d3"/>
<text x="493" y="445.55" transform="rotate(0.1 493 445.55)" font-size="4.5" fill="#fff" text-anchor="middle" font-weight="bold" textLength="12.34" lengthAdjust="spacingAndGlyphs">Profit</text>
<text x="541.9" y="448.75" transform="rotate(0.1 541.9 448.75)" font-size="6" fill="#15151f" text-anchor="middle" font-weight="bold" textLength="7.8" lengthAdjust="spacingAndGlyphs">02</text>
<rect x="516.4" y="459" width="32.9" height="13.3" fill="#f4f5f7"/>
<path d="M462.85 456.1 H522.4 L517.4 469.4 H462.85 A6.65 6.65 0 0 1 462.85 456.1 Z" fill="#674ff2"/>
<text x="493" y="464.65" transform="rotate(0.1 493 464.65)" font-size="4.5" fill="#fff" text-anchor="middle" font-weight="bold" textLength="16.8" lengthAdjust="spacingAndGlyphs">Control</text>
<text x="541.9" y="467.85" transform="rotate(0.1 541.9 467.85)" font-size="6" fill="#15151f" text-anchor="middle" font-weight="bold" textLength="7.8" lengthAdjust="spacingAndGlyphs">03</text>
<rect x="508.8" y="478" width="40.5" height="13.3" fill="#f4f5f7"/>
<path d="M471.65 475.1 H514.8 L509.8 488.4 H471.65 A6.65 6.65 0 0 1 471.65 475.1 Z" fill="#3f82ec"/>
<text x="493" y="483.65" transform="rotate(0.1 493 483.65)" font-size="4.5" fill="#fff" text-anchor="middle" font-weight="bold" textLength="16.8" lengthAdjust="spacingAndGlyphs">Identify</text>
<text x="541.9" y="486.85" transform="rotate(0.1 541.9 486.85)" font-size="6" fill="#15151f" text-anchor="middle" font-weight="bold" textLength="7.8" lengthAdjust="spacingAndGlyphs">04</text>
<rect x="501.4" y="497.1" width="47.9" height="13.3" fill="#f4f5f7"/>
<path d="M480.85 494.2 H507.4 L502.4 507.5 H480.85 A6.65 6.65 0 0 1 480.85 494.2 Z" fill="#1fb9a5"/>
<text x="493" y="502.75" transform="rotate(0.1 493 502.75)" font-size="4.5" fill="#fff" text-anchor="middle" font-weight="bold" textLength="16.02" lengthAdjust="spacingAndGlyphs">Project</text>
<text x="541.9" y="505.95" transform="rotate(0.1 541.9 505.95)" font-size="6" fill="#15151f" text-anchor="middle" font-weight="bold" textLength="7.8" lengthAdjust="spacingAndGlyphs">05</text>
<rect x="444.01" y="424.52" width="1.12" height="2.1" fill="#fff" fill-opacity="0.25" stroke="#fff" stroke-width="0.6"/>
<rect x="445.74" y="423.77" width="1.12" height="2.85" fill="#fff" fill-opacity="0.25" stroke="#fff" stroke-width="0.6"/>
<rect x="447.46" y="422.73" width="1.12" height="3.9" fill="#fff" fill-opacity="0.25" stroke="#fff" stroke-width="0.6"/>
<rect x="452.7" y="442.6" width="4.61" height="3.31" fill="#fff" rx="0.36" fill-opacity="0.2" stroke="#fff" stroke-width="0.65"/>
<path d="M454.14 442.6 v-0.79 h1.73 v0.79" fill="none" stroke="#fff" stroke-width="0.65"/>
<line x1="452.7" y1="444.12" x2="457.3" y2="444.12" stroke="#fff" stroke-width="0.52"/>
<rect x="460.8" y="460.4" width="3.6" height="4.6" fill="#fff" rx="0.6" fill-opacity="0.3" stroke="#fff" stroke-width="0.75"/>
<path d="M468.5 481.9 l2.4 -2.1 l2.4 2.1 v2.8 h-4.8 Z" fill="#fff" stroke="#fff" stroke-width="0.75" fill-opacity="0.3"/>
<rect x="477.9" y="498.2" width="3.6" height="5.2" fill="#fff" rx="0.7" fill-opacity="0.3" stroke="#fff" stroke-width="0.75"/>
<line x1="477.9" y1="500.8" x2="481.5" y2="500.8" stroke="#fff" stroke-width="0.6"/>
</g>
<g id="s9">
<rect x="625.8" y="426.7" width="100.5" height="9.1" fill="#eeeff1"/>
<rect x="625.8" y="441.7" width="100.5" height="8.9" fill="#eeeff1"/>
<rect x="625.8" y="456.7" width="100.5" height="9.1" fill="#eeeff1"/>
<rect x="625.8" y="471.5" width="100.5" height="9.3" fill="#eeeff1"/>
<rect x="625.8" y="486.7" width="100.5" height="9.2" fill="#eeeff1"/>
<polygon points="627.5,421.3 723.8,421.3 712.5,431.8 639.7,431.8" fill="#1fb9a5"/>
<text x="675.8" y="428.15" transform="rotate(0.1 675.8 428.15)" font-size="4.5" fill="#fff" text-anchor="middle" font-weight="bold" textLength="12.34" lengthAdjust="spacingAndGlyphs">Profit</text>
<circle cx="731.4" cy="431.3" r="5.5" fill="#fff"/>
<circle cx="731.4" cy="431.3" r="5" fill="#1fb9a5"/>
<text x="741" y="429.05" transform="rotate(0.1 741 429.05)" font-size="3.27" fill="#9599a8" textLength="75.2" lengthAdjust="spacingAndGlyphs">Put your data, pick a chart or infographic, customize</text>
<text x="741" y="433.55" transform="rotate(0.1 741 433.55)" font-size="3.27" fill="#9599a8" textLength="70.31" lengthAdjust="spacingAndGlyphs">it, and done. Make infographics that people love.</text>
<polygon points="641.7,436.3 710,436.3 705.3,446.4 647,446.4" fill="#3f82ec"/>
<text x="675.8" y="442.95" transform="rotate(0.1 675.8 442.95)" font-size="4.5" fill="#fff" text-anchor="middle" font-weight="bold" textLength="23.89" lengthAdjust="spacingAndGlyphs">Innovation</text>
<circle cx="731.4" cy="446.4" r="5.5" fill="#fff"/>
<circle cx="731.4" cy="446.4" r="5" fill="#2f6fe0"/>
<text x="741" y="444.15" transform="rotate(0.1 741 444.15)" font-size="3.27" fill="#9599a8" textLength="75.2" lengthAdjust="spacingAndGlyphs">Put your data, pick a chart or infographic, customize</text>
<text x="741" y="448.65" transform="rotate(0.1 741 448.65)" font-size="3.27" fill="#9599a8" textLength="70.31" lengthAdjust="spacingAndGlyphs">it, and done. Make infographics that people love.</text>
<polygon points="648.7,451.3 703.3,451.3 700.8,461.4 651.7,461.4" fill="#674ff2"/>
<text x="675.8" y="457.95" transform="rotate(0.1 675.8 457.95)" font-size="4.5" fill="#fff" text-anchor="middle" font-weight="bold" textLength="16.02" lengthAdjust="spacingAndGlyphs">Project</text>
<circle cx="731.4" cy="461.4" r="5.5" fill="#fff"/>
<circle cx="731.4" cy="461.4" r="5" fill="#4a30e0"/>
<text x="741" y="459.15" transform="rotate(0.1 741 459.15)" font-size="3.27" fill="#9599a8" textLength="75.2" lengthAdjust="spacingAndGlyphs">Put your data, pick a chart or infographic, customize</text>
<text x="741" y="463.65" transform="rotate(0.1 741 463.65)" font-size="3.27" fill="#9599a8" textLength="70.31" lengthAdjust="spacingAndGlyphs">it, and done. Make infographics that people love.</text>
<polygon points="652.5,466.4 699.2,466.4 697.5,476.4 654.7,476.4" fill="#8d58d3"/>
<text x="675.8" y="473" transform="rotate(0.1 675.8 473)" font-size="4.5" fill="#fff" text-anchor="middle" font-weight="bold" textLength="18.38" lengthAdjust="spacingAndGlyphs">Improve</text>
<circle cx="731.4" cy="476.4" r="5.5" fill="#fff"/>
<circle cx="731.4" cy="476.4" r="5" fill="#7a48c8"/>
<text x="741" y="474.15" transform="rotate(0.1 741 474.15)" font-size="3.27" fill="#9599a8" textLength="75.2" lengthAdjust="spacingAndGlyphs">Put your data, pick a chart or infographic, customize</text>
<text x="741" y="478.65" transform="rotate(0.1 741 478.65)" font-size="3.27" fill="#9599a8" textLength="70.31" lengthAdjust="spacingAndGlyphs">it, and done. Make infographics that people love.</text>
<polygon points="655.3,481.4 696.3,481.4 695.5,491.8 656.3,491.8" fill="#fb692c"/>
<text x="675.8" y="488.2" transform="rotate(0.1 675.8 488.2)" font-size="4.5" fill="#fff" text-anchor="middle" font-weight="bold" textLength="16.8" lengthAdjust="spacingAndGlyphs">Identify</text>
<circle cx="731.4" cy="491.7" r="5.5" fill="#fff"/>
<circle cx="731.4" cy="491.7" r="5" fill="#f8652b"/>
<text x="741" y="489.45" transform="rotate(0.1 741 489.45)" font-size="3.27" fill="#9599a8" textLength="75.2" lengthAdjust="spacingAndGlyphs">Put your data, pick a chart or infographic, customize</text>
<text x="741" y="493.95" transform="rotate(0.1 741 493.95)" font-size="3.27" fill="#9599a8" textLength="70.31" lengthAdjust="spacingAndGlyphs">it, and done. Make infographics that people love.</text>
<rect x="656.7" y="496.4" width="38.4" height="10.4" fill="#8f9297"/>
<path d="M673.9 502.2 L675.8 500.6 L677.7 502.2" fill="none" stroke="#fff" stroke-width="0.7" opacity="0.8"/>
<circle cx="731.4" cy="431.3" r="2.1" fill="#fff" fill-opacity="0.25" stroke="#fff" stroke-width="0.8"/>
<path d="M731.4 429.9 v1.5 h1.2" fill="none" stroke="#fff" stroke-width="0.7"/>
<rect x="729.3" y="444.4" width="4.2" height="4" fill="#fff" rx="0.5" fill-opacity="0.25" stroke="#fff" stroke-width="0.8"/>
<line x1="729.3" y1="445.9" x2="733.5" y2="445.9" stroke="#fff" stroke-width="0.7"/>
<path d="M728.5 463.4 l1.9 -3.2 l1.2 1.6 l1 -1.1 l1.9 2.7 Z" fill="#fff" stroke="#fff" stroke-width="0.7" fill-opacity="0.5"/>
<path d="M729.1 474.9 h4.6 M729.1 476.5 h4.6 M729.1 478.1 h3" fill="none" stroke="#fff" stroke-width="0.8"/>
<g transform="translate(731.4 491.7) rotate(45) scale(0.8)">
<rect x="-1.1" y="-3.4" width="2.2" height="5.2" fill="#fff" rx="0.4" fill-opacity="0.3" stroke="#fff" stroke-width="0.9"/>
<path d="M-1.1 1.8 L0 3.6 L1.1 1.8" fill="none" stroke="#fff" stroke-width="0.9"/>
</g>
</g>
</svg>
</body></html>
